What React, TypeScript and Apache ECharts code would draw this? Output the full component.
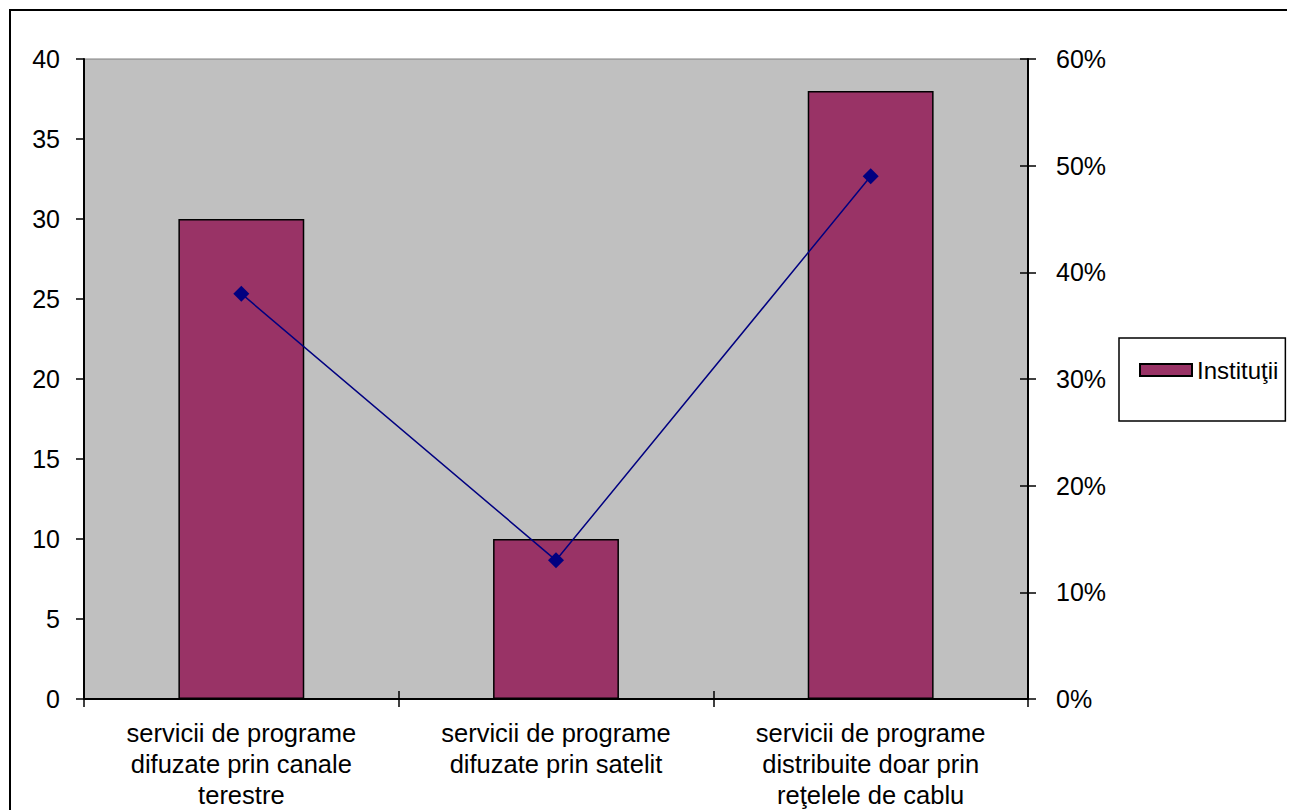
import React, { useEffect, useRef } from "react";
import * as echarts from "echarts";

const categories = [
  "servicii de programe\ndifuzate prin canale\nterestre",
  "servicii de programe\ndifuzate prin satelit",
  "servicii de programe\ndistribuite doar prin\nreţelele de cablu",
];
const institutii = [30, 10, 38];
const procente = [38, 13, 49];
const leftTicks = { min: 0, max: 40, interval: 5 };
const rightTicks = { min: 0, max: 60, interval: 10 };

const FONT = "'Liberation Sans', Arial, sans-serif";

export default function App() {
  const ref = useRef<HTMLDivElement>(null);
  useEffect(() => {
    if (!ref.current) return;
    const chart = echarts.init(ref.current, null, { renderer: "svg" });
    chart.setOption({
      animation: false,
      textStyle: { fontFamily: FONT, color: "#000" },
      grid: {
        left: 76,
        top: 51,
        right: 267,
        bottom: 111,
        show: true,
        backgroundColor: "#c0c0c0",
        borderColor: "#808080",
        borderWidth: 1,
      },
      legend: {
        data: [{ name: "Instituţii", icon: "rect" }],
        orient: "vertical",
        left: 1111,
        top: 330,
        padding: [20, 7, 39, 20],
        borderColor: "#000",
        borderWidth: 1.5,
        backgroundColor: "#fff",
        itemWidth: 52,
        itemHeight: 12,
        textStyle: { fontFamily: FONT, fontSize: 24, color: "#000" },
      },
      xAxis: [
        {
          type: "category",
          data: categories,
          position: "bottom",
          axisLine: { lineStyle: { color: "#000", width: 2 } },
          axisTick: { show: true, length: 8, lineStyle: { color: "#000", width: 1.5 } },
          axisLabel: {
            fontFamily: FONT,
            fontSize: 25.5,
            color: "#000",
            lineHeight: 31,
            margin: 18,
            interval: 0,
          },
          splitLine: { show: false },
        },
        {
          type: "category",
          data: categories,
          position: "bottom",
          axisLine: { show: false },
          axisTick: { show: true, inside: true, length: 8, lineStyle: { color: "#000", width: 1.5 } },
          axisLabel: { show: false },
          splitLine: { show: false },
        },
      ],
      yAxis: [
        {
          type: "value",
          position: "left",
          ...leftTicks,
          axisLine: { show: true, lineStyle: { color: "#000", width: 2 } },
          axisTick: { show: true, length: 8, lineStyle: { color: "#000", width: 1.5 } },
          axisLabel: { fontFamily: FONT, fontSize: 25, color: "#000", margin: 24 },
          splitLine: { show: false },
        },
        {
          type: "value",
          position: "right",
          ...rightTicks,
          axisLine: { show: true, lineStyle: { color: "#000", width: 2 } },
          axisTick: { show: true, length: 8, lineStyle: { color: "#000", width: 1.5 } },
          axisLabel: {
            fontFamily: FONT,
            fontSize: 25,
            color: "#000",
            margin: 28,
            formatter: "{value}%",
          },
          splitLine: { show: false },
        },
        {
          type: "value",
          position: "right",
          ...rightTicks,
          axisLine: { show: false },
          axisTick: { show: true, inside: true, length: 8, lineStyle: { color: "#000", width: 1.5 } },
          axisLabel: { show: false },
          splitLine: { show: false },
        },
      ],
      series: [
        {
          name: "Instituţii",
          type: "bar",
          data: institutii,
          xAxisIndex: 0,
          yAxisIndex: 0,
          barWidth: "40%",
          itemStyle: { color: "#993366", borderColor: "#000", borderWidth: 1.5 },
        },
        {
          name: "Procent",
          type: "line",
          data: procente,
          xAxisIndex: 0,
          yAxisIndex: 1,
          symbol: "diamond",
          symbolSize: 16,
          itemStyle: { color: "#000080" },
          lineStyle: { color: "#000080", width: 1.5 },
        },
      ],
      graphic: [
        {
          type: "rect",
          shape: { x: 2, y: 2, width: 2000, height: 2000 },
          style: { fill: "none", stroke: "#000", lineWidth: 2 },
          silent: true,
          z: 100,
        },
      ],
    });
    return () => chart.dispose();
  }, []);
  return <div ref={ref} style={{ width: 1287, height: 802 }} />;
}
